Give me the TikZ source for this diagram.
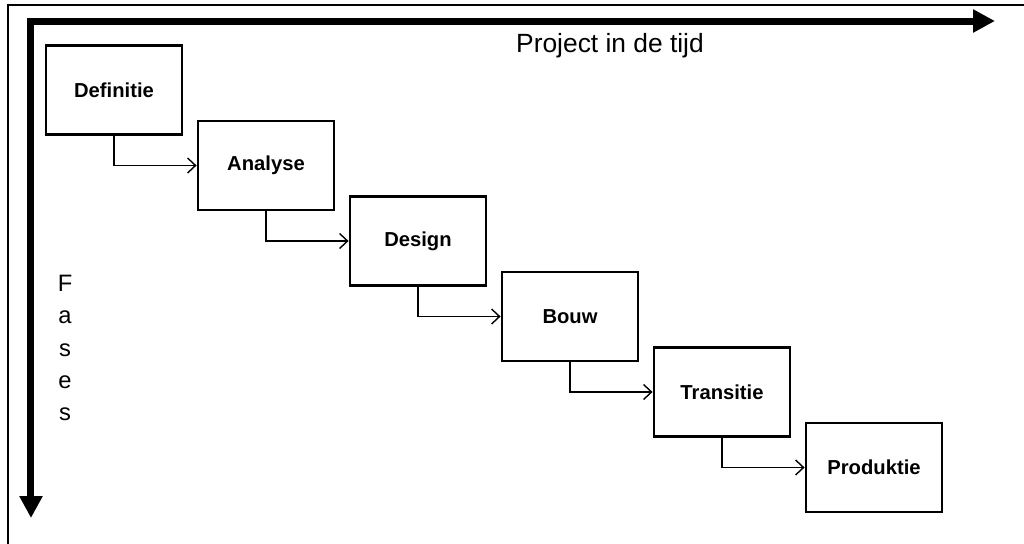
\documentclass[tikz,border=0pt]{standalone}
\usepackage{fontspec}
\setmainfont{Liberation Sans}
\usetikzlibrary{positioning}
\usetikzlibrary{arrows.meta}
\tikzset {
  node distance={1.51cm and 3.04cm},
  % phase boxes
  fase/.style = {draw, line width=1.6pt, minimum width=2.72cm, minimum height=1.78cm,
    font=\fontsize{11.5}{13}\selectfont\bfseries, inner sep=0pt},
  % thin connectors between phases
  link/.style={line width=0.8pt, -{Straight Barb[length=1.6mm, width=3mm]}},
  % thick time / phase axes
  axis/.style={line width=0.14cm, line join=miter,
    {Triangle[length=0.44cm, width=0.44cm]}-{Triangle[length=0.44cm, width=0.44cm]}},
}

\begin{document}
\begin{tikzpicture}
        \useasboundingbox (0,0) rectangle (20.48,-10.88);
        \draw[line width=1.2pt] (0.16,-10.88) -- (0.16,-0.1) -- (20.48,-0.1);

        \coordinate (hoek) at (0.62,-0.42);
        \coordinate (faseeind) at (0.62,-10.36);
        \coordinate (tijdeind) at (19.9,-0.42);
        \draw[axis] (faseeind) -- (hoek) -- (tijdeind);

        \node (tijd) at (12.2,-0.92) {\fontsize{15}{18}\selectfont Project in de tijd};
        \node[align=center, font=\fontsize{13.5}{18.4}\selectfont] (fases) at (1.3,-6.96)
          {F\\a\\s\\e\\s};

        \node[fase] (def) at (2.28,-1.8) {Definitie};
        \node[fase, on grid, below right=of def] (ana) {Analyse};
        \node[fase, on grid, below right=of ana] (des) {Design};
        \node[fase, on grid, below right=of des] (bouw) {Bouw};
        \node[fase, on grid, below right=of bouw] (trans) {Transitie};
        \node[fase, on grid, below right=of trans] (prod) {Produktie};

        \draw[link] (def.south) |- (ana.west);
        \draw[link] (ana.south) |- (des.west);
        \draw[link] (des.south) |- (bouw.west);
        \draw[link] (bouw.south) |- (trans.west);
        \draw[link] (trans.south) |- (prod.west);
      \end{tikzpicture}
\end{document}
